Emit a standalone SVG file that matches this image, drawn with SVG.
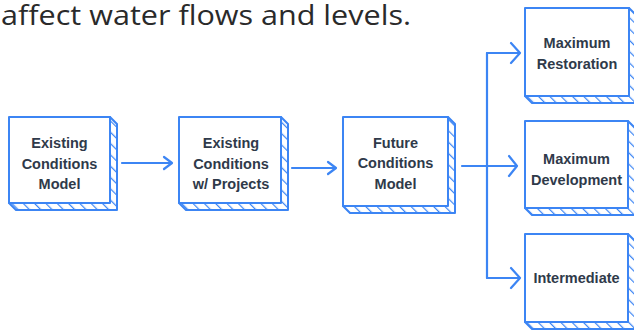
<svg xmlns="http://www.w3.org/2000/svg" width="634" height="330" viewBox="0 0 634 330">
  <style>
    .front { fill: #ffffff; stroke: #3c85f4; stroke-width: 2; stroke-linejoin: round; }
    .shadow { fill: url(#hatch); stroke: #3c85f4; stroke-width: 2; stroke-linejoin: round; }
    .lbl { font-family: "Liberation Sans", Arial, sans-serif; font-weight: bold; font-size: 14.5px; fill: #2f3a4a; text-anchor: middle; }
    .conn { fill: none; stroke: #3c85f4; stroke-width: 2.2; stroke-linecap: round; stroke-linejoin: round; }
    .title { font-family: "Open Sans", "Liberation Sans", sans-serif; font-weight: 400; font-size: 27px; fill: #2a2a2a; }
  </style>
  <defs>
    <pattern id="hatch" patternUnits="userSpaceOnUse" width="8" height="8" patternTransform="rotate(-45)">
      <rect width="8" height="8" fill="#ffffff"/>
      <line x1="0" y1="0" x2="0" y2="8" stroke="#3c85f4" stroke-width="2.4"/>
    </pattern>
  </defs>

  <text class="title" x="1" y="25" textLength="410" lengthAdjust="spacingAndGlyphs">affect water flows and levels.</text>

  <g id="connectors">
    <path class="conn" d="M122 163 H172 M164 157 L172 163 L164 169"/>
    <path class="conn" d="M292 168 H336 M328 162 L336 168 L328 174"/>
    <path class="conn" d="M462 166 H517 M509 156 L517 166 L509 176"/>
    <path class="conn" d="M487 53 V278"/>
    <path class="conn" d="M487 53 H520 M511 43 L520 53 L511 63"/>
    <path class="conn" d="M487 278 H520 M511 268 L520 278 L511 288"/>
  </g>

  <g id="node-existing">
    <polygon class="shadow" points="110,117 117,124 117,210 16,210 9,203"/>
    <rect class="front" x="9" y="117" width="101" height="86"/>
    <text class="lbl" x="59.5" y="148">Existing</text>
    <text class="lbl" x="59.5" y="168.5">Conditions</text>
    <text class="lbl" x="59.5" y="189">Model</text>
  </g>

  <g id="node-existing-projects">
    <polygon class="shadow" points="281,117 288,124 288,210 186,210 179,203"/>
    <rect class="front" x="179" y="117" width="102" height="86"/>
    <text class="lbl" x="231" y="148">Existing</text>
    <text class="lbl" x="231" y="168.5">Conditions</text>
    <text class="lbl" x="231" y="189">w/ Projects</text>
  </g>

  <g id="node-future">
    <polygon class="shadow" points="448,117 455,124 455,213 350,213 343,206"/>
    <rect class="front" x="343" y="117" width="105" height="89"/>
    <text class="lbl" x="395.5" y="147.5">Future</text>
    <text class="lbl" x="395.5" y="168">Conditions</text>
    <text class="lbl" x="395.5" y="188.5">Model</text>
  </g>

  <g id="node-max-restoration">
    <polygon class="shadow" points="629,8 636,15 636,103 532,103 525,96"/>
    <rect class="front" x="525" y="8" width="104" height="88"/>
    <text class="lbl" x="577" y="47.5">Maximum</text>
    <text class="lbl" x="577" y="68.5">Restoration</text>
  </g>

  <g id="node-max-development">
    <polygon class="shadow" points="628,121 635,128 635,215 532,215 525,208"/>
    <rect class="front" x="525" y="121" width="103" height="87"/>
    <text class="lbl" x="576.5" y="163.5">Maximum</text>
    <text class="lbl" x="576.5" y="184.5">Development</text>
  </g>

  <g id="node-intermediate">
    <polygon class="shadow" points="628,234 635,241 635,329 532,329 525,322"/>
    <rect class="front" x="525" y="234" width="103" height="88"/>
    <text class="lbl" x="576.5" y="282.5">Intermediate</text>
  </g>
</svg>
